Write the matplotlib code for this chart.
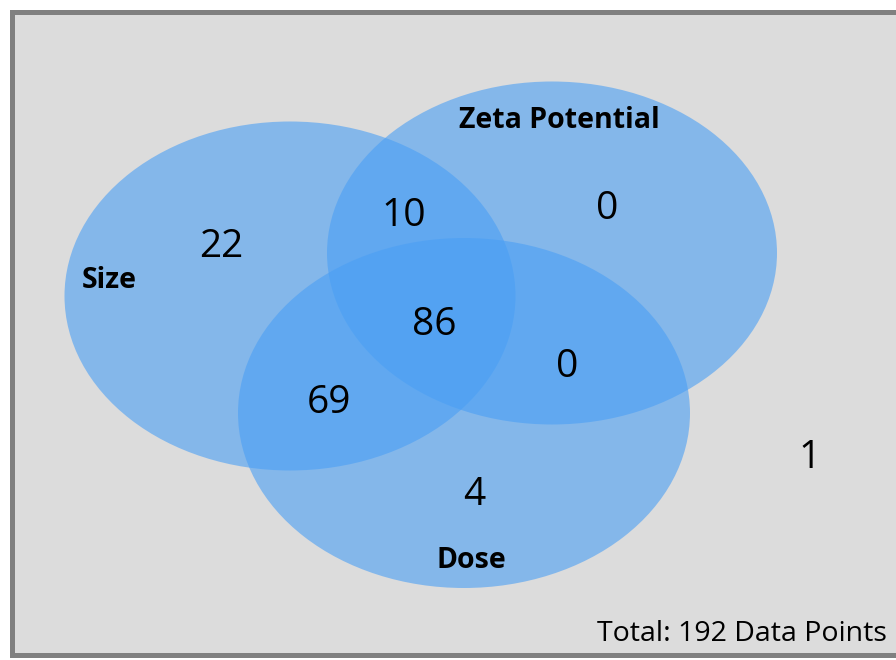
import matplotlib
matplotlib.use("Agg")
import matplotlib.pyplot as plt
from matplotlib.patches import Ellipse, Rectangle

plt.rcParams['font.family'] = ['Open Sans', 'DejaVu Sans']

# Set names and region counts
set_names = ["Size", "Zeta Potential", "Dose"]
region_labels = ["Size only", "Size&Zeta", "Zeta only", "All", "Zeta&Dose", "Size&Dose", "Dose only", "None"]
region_counts = [22, 10, 0, 86, 0, 69, 4, 1]
total_points = 192

# Geometry (pixel coordinates)
ellipses = [  # cx, cy, width, height
    (290, 296, 451, 349),
    (552, 253, 450, 343),
    (464, 413, 452, 350),
]
set_label_pos = [(109, 281), (559, 120), (471, 561)]
region_pos = [(221, 247), (404, 216), (607, 209), (434, 325), (567, 367), (329, 403), (474, 495), (810, 458)]

fig = plt.figure(figsize=(8.96, 6.6), dpi=100)
ax = fig.add_axes([0, 0, 1, 1])
ax.set_xlim(0, 896)
ax.set_ylim(660, 0)
ax.axis('off')

ax.add_patch(Rectangle((11.5, 11.5), 900, 643.5, facecolor='#dcdcdc', edgecolor='#808080', linewidth=3.6, zorder=0))

for (cx, cy, w, h) in ellipses:
    ax.add_patch(Ellipse((cx, cy), w, h, facecolor='#4a9ff5', alpha=0.6, edgecolor='none', zorder=1))

for name, (x, y) in zip(set_names, set_label_pos):
    ax.text(x, y, name, fontsize=20.5, fontweight='bold', ha='center', va='center', color='black', zorder=3)

for cnt, (x, y) in zip(region_counts, region_pos):
    ax.text(x, y, str(cnt), fontsize=28, ha='center', va='center', color='black', zorder=3)

ax.text(887, 634, f"Total: {total_points} Data Points", fontsize=20.5, ha='right', va='center', color='black', zorder=3)

fig.savefig("out.png", dpi=100, facecolor='white')
